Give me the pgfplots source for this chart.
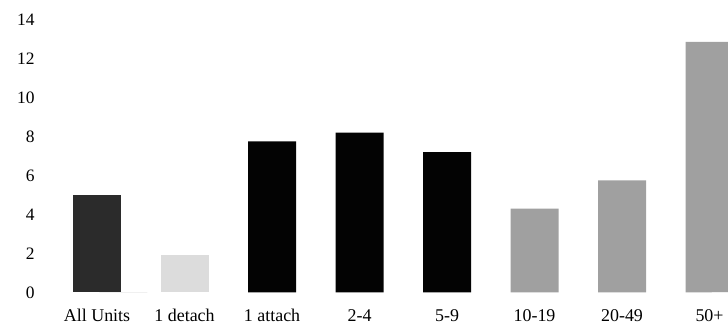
\documentclass[border=0pt]{standalone}
\usepackage{pgfplots}
\pgfplotsset{compat=1.18}
\usepackage{fontspec}
\setmainfont{Liberation Serif}
\definecolor{cdark}{HTML}{2B2B2B}
\definecolor{clight}{HTML}{DCDCDC}
\definecolor{cblack}{HTML}{030303}
\definecolor{cgray}{HTML}{A0A0A0}
\begin{document}
\begin{tikzpicture}
\begin{axis}[
  x=87.5bp, y=19.5bp,
  xmin=-1.109, xmax=7.211,
  ymin=0, ymax=15,
  ybar, bar width=48bp, bar shift=0pt,
  axis line style={draw=none},
  axis x line*=bottom,
  ytick={0,2,...,14},
  xtick={0,...,7},
  xticklabels={All Units,1 detach,1 attach,2-4,5-9,10-19,20-49,50+},
  tick style={draw=none},
  /pgf/number format/assume math mode=true,
  xticklabel style={font=\fontsize{18}{20}\selectfont, yshift=-9bp},
  yticklabel style={font=\fontsize{17.5}{20}\selectfont, anchor=east, xshift=38bp},
  clip=true,
]
\addplot[draw=none, fill=cdark] coordinates {(0,5.0)};
\addplot[draw=none, fill=clight] coordinates {(1,1.9)};
\addplot[draw=none, fill=cblack] coordinates {(2,7.75) (3,8.2) (4,7.2)};
\addplot[draw=none, fill=cgray] coordinates {(5,4.3) (6,5.75) (7,12.85)};
\addplot[draw=black!6, line width=0.8pt, sharp plot, ybar=none] coordinates {(0.3,0) (7.3,0)};
\end{axis}
\end{tikzpicture}
\end{document}
